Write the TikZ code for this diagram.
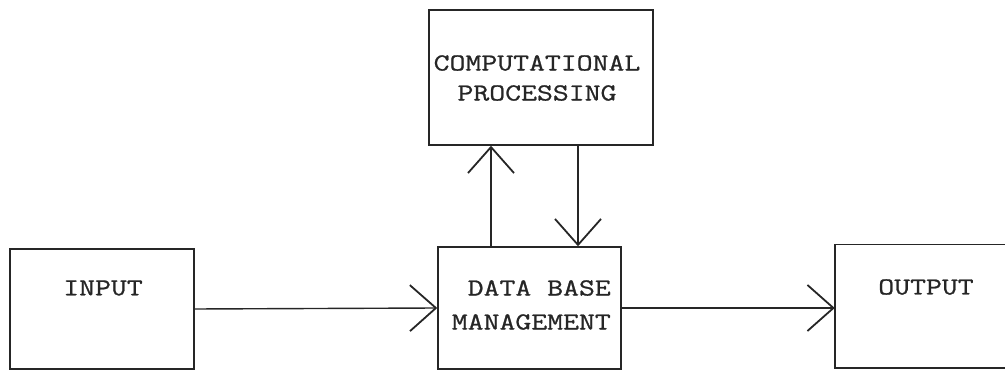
\documentclass[tikz,border=0pt]{standalone}
\usepackage{fontspec}
\usetikzlibrary{arrows.meta,calc}
\newfontfamily\typewriter{Latin Modern Mono}[FakeStretch=1.26,FakeBold=0.9]
\definecolor{ink}{HTML}{262626}
\begin{document}
\begin{tikzpicture}[x=1pt,y=-1pt,
  block/.style={draw=ink,line width=1.4pt,minimum width=#1,inner sep=0pt},
  label/.style={text=ink,inner sep=0pt,font={\typewriter\fontsize{24.5}{30}\selectfont}},
  flow/.style={draw=ink,line width=1.4pt,-{Straight Barb[length=26pt,width=46pt,line width=1.8pt]}}]
  \useasboundingbox (0,0) rectangle (1005,371);
  % boxes
  \node[block=184pt,minimum height=120pt] (input) at (102,309) {};
  \node[block=224pt,minimum height=135pt] (proc) at (541,77.5) {};
  \node[block=183pt,minimum height=122pt] (dbm) at (529.5,308) {};
  % the output box runs on past the right margin, so only three sides show
  \node[minimum width=200pt,minimum height=123pt,inner sep=0pt] (output) at (935,306.5) {};
  \draw[ink,line width=1.4pt] (1010,0 |- output.north) -- (output.north west)
    -- (output.south west) -- (1010,0 |- output.south);
  % box texts
  \node[label] (inputtext) at (103,288) {INPUT};
  \node[label,align=center] (proctext) at (537,78) {COMPUTATIONAL\\PROCESSING};
  \node[label,align=right,anchor=east,font={\typewriter\fontsize{24.5}{34}\selectfont}] (dbmtext) at (611,305) {DATA BASE\\MANAGEMENT};
  \node[label] (outputtext) at (926,287) {OUTPUT};
  % connectors
  \draw[flow] (input.east) -- (dbm.west);
  \draw[flow] (dbm.east) -- (dbm.east -| output.west);
  \coordinate (upfoot) at ([xshift=-38.5pt]dbm.north);
  \coordinate (downtop) at ([xshift=48.5pt]dbm.north |- proc.south);
  \draw[flow] (upfoot) -- (upfoot |- proc.south);
  \draw[flow] (downtop) -- (downtop |- dbm.north);
\end{tikzpicture}
\end{document}
